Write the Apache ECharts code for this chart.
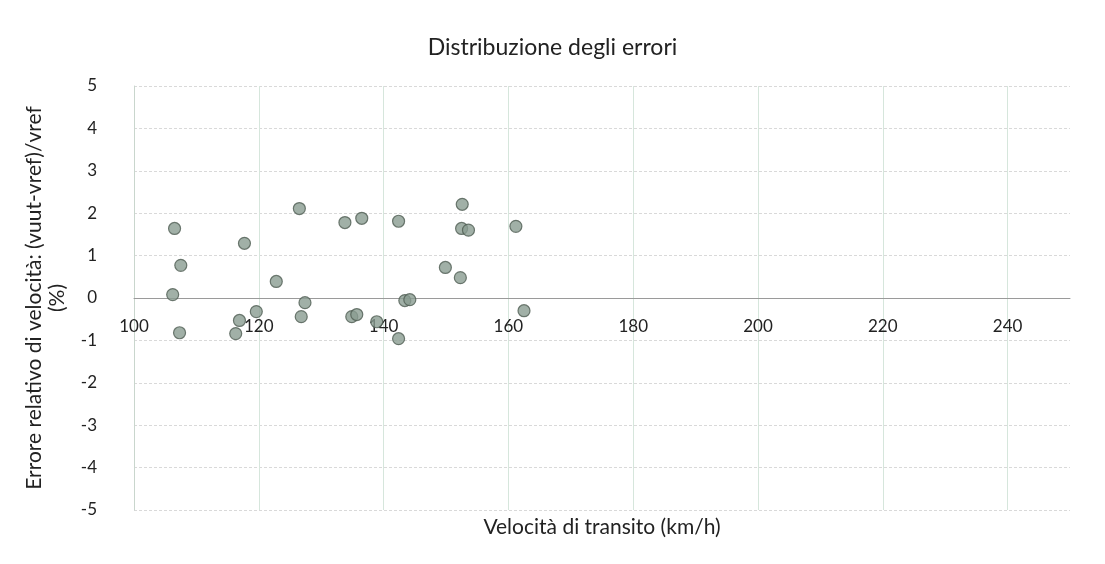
<!DOCTYPE html>
<html>
<head>
<meta charset="utf-8">
<script src="https://cdn.jsdelivr.net/npm/echarts@6/dist/echarts.min.js"></script>
<style>
html,body{margin:0;padding:0;background:#fff;}
#chart{width:1105px;height:564px;}
</style>
</head>
<body>
<div id="chart"></div>
<script>
const titleText = 'Distribuzione degli errori';
const xName = 'Velocità di transito (km/h)';
const yName = 'Errore relativo di velocità: (vuut-vref)/vref\n(%)';
const speed = [106.5,107.5,106.2,107.3,117.7,116.9,116.3,119.6,122.8,126.5,127.4,126.8,133.8,136.5,134.9,135.7,138.9,142.4,142.4,143.4,144.2,149.9,152.3,152.6,152.5,153.6,161.2,162.5];
const errorPct = [1.64,0.77,0.08,-0.82,1.29,-0.53,-0.84,-0.32,0.39,2.11,-0.11,-0.44,1.78,1.88,-0.44,-0.39,-0.56,1.81,-0.96,-0.06,-0.04,0.72,0.48,2.21,1.64,1.60,1.69,-0.30];
const xTicks = [100,120,140,160,180,200,220,240];
const yTicks = [-5,-4,-3,-2,-1,0,1,2,3,4,5];
const xMax = 250;

const points = speed.map((v, i) => [v, errorPct[i]]);
const font = 'Lato, "Noto Sans", sans-serif';

const W = 1105, H = 564;
const gridL = 134, gridR = 35, gridT = 86, gridB = 54;
const plotH = H - gridT - gridB;
const yMin = yTicks[0], yMax = yTicks[yTicks.length - 1];
// move the labelled x axis up so it sits on the zero line
const zeroOffset = -plotH * (0 - yMin) / (yMax - yMin);

const chart = echarts.init(document.getElementById('chart'), null, {renderer: 'canvas'});
chart.setOption({
  backgroundColor: '#ffffff',
  animation: false,
  title: {
    text: titleText,
    left: 'center',
    top: 31,
    padding: [5, 0, 5, 14],
    textStyle: {fontFamily: font, fontSize: 23, fontWeight: 'normal', color: '#222'}
  },
  grid: {left: gridL, right: gridR, top: gridT, bottom: gridB, containLabel: false},
  xAxis: [{
    type: 'value',
    min: xTicks[0],
    max: xMax,
    interval: 20,
    position: 'bottom',
    offset: zeroOffset,
    axisLine: {show: true, onZero: false, lineStyle: {color: '#9a9a9a', width: 1}},
    axisTick: {show: false},
    axisLabel: {
      margin: 20,
      fontFamily: font, fontSize: 17, color: '#222',
      showMaxLabel: false,
      formatter: v => xTicks.includes(v) ? String(v) : ''
    },
    splitLine: {show: true, showMaxLine: false, lineStyle: {color: '#d6e6dc', width: 1}}
  }, {
    type: 'value',
    min: xTicks[0],
    max: xMax,
    interval: 20,
    position: 'bottom',
    name: xName,
    nameLocation: 'middle',
    nameGap: 7,
    nameTextStyle: {fontFamily: font, fontSize: 21, color: '#222', verticalAlign: 'top'},
    axisLine: {show: false, onZero: false},
    axisTick: {show: false},
    axisLabel: {show: false},
    splitLine: {show: false}
  }],
  yAxis: {
    type: 'value',
    min: yMin,
    max: yMax,
    interval: 1,
    name: yName,
    nameLocation: 'middle',
    nameRotate: 90,
    nameGap: 65,
    nameTextStyle: {fontFamily: font, fontSize: 21, color: '#222', lineHeight: 23, align: 'center'},
    axisLine: {show: true, onZero: false, lineStyle: {color: '#c9d6cd', width: 1}},
    axisTick: {show: false},
    axisLabel: {margin: 37, fontFamily: font, fontSize: 17, color: '#222'},
    splitLine: {show: true, lineStyle: {color: '#d9d9d9', width: 1, type: [3, 2]}}
  },
  series: [{
    type: 'scatter',
    xAxisIndex: 0,
    data: points,
    symbol: 'circle',
    symbolSize: 12,
    itemStyle: {color: '#8a9c91', borderColor: '#4f5c53', borderWidth: 1.2}
  }]
});
</script>
</body>
</html>
